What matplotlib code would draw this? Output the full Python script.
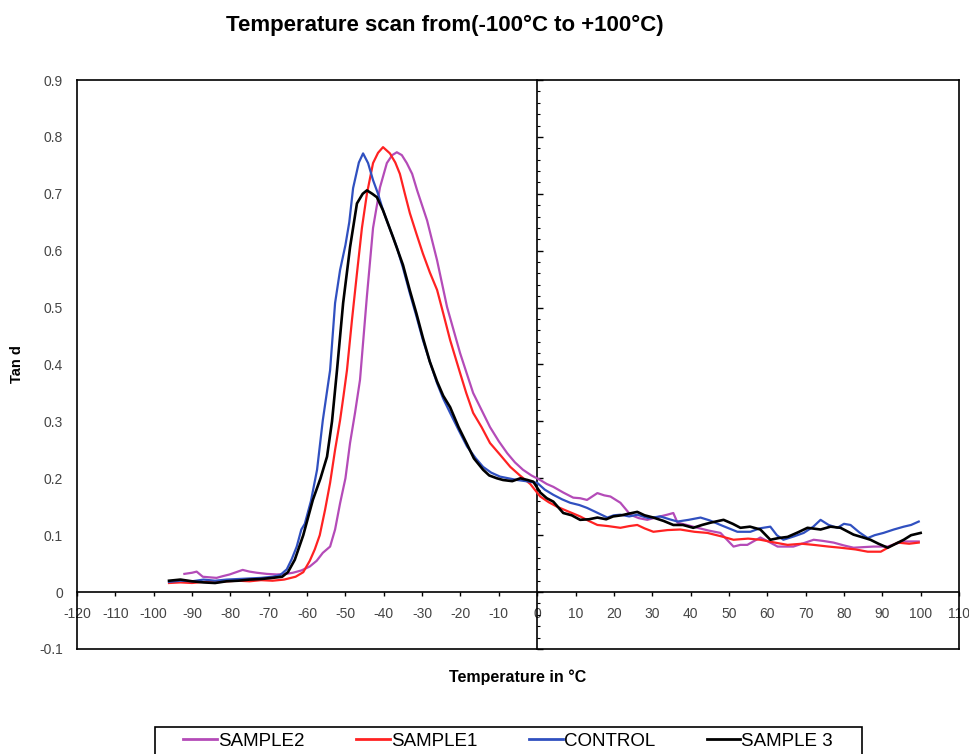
import matplotlib
matplotlib.use('Agg')
import matplotlib.pyplot as plt
from matplotlib.patches import Rectangle
import numpy as np

plt.rcParams['font.family'] = ['Liberation Sans', 'DejaVu Sans']

# SAMPLE2 (purple)
t_s2 = [-92, -90, -88.8, -87.2, -85.5, -83.6, -82, -80.2, -78.5, -76.8, -75, -73.1, -70.5, -67.9, -65.5,
        -63.7, -61.5, -59.3, -57.5, -55.9, -54, -52.7, -51.4, -50, -48.8, -47.5, -46.2, -44.4, -42.8, -41,
        -39.2, -37.8, -36.6, -35.3, -34, -32.6, -31.3, -28.7, -26.1, -23.5, -20.1, -16.7, -14.5, -12.3, -10,
        -7.8, -5.8, -3.7, -1.5, 0.8, 2.5, 4.2, 6.8, 9.4, 11.2, 13, 15.7, 17.5, 19.1, 21.7,
        24.3, 26.5, 28.7, 31.5, 33.9, 35.5, 36.6, 39, 41.8, 44.8, 47.8, 49.5, 51.2, 53, 54.8,
        58.2, 60.5, 62.7, 66.8, 69.5, 72.1, 74.5, 77.3, 80, 82.5, 85, 87.7, 91.4, 93.5, 95.6, 99.5]
v_s2 = [0.032, 0.034, 0.036, 0.027, 0.026, 0.025, 0.028, 0.031, 0.035, 0.039, 0.036, 0.034, 0.032, 0.031, 0.032,
        0.034, 0.038, 0.045, 0.055, 0.069, 0.08, 0.11, 0.156, 0.2, 0.262, 0.315, 0.373, 0.52, 0.64, 0.711,
        0.754, 0.768, 0.773, 0.768, 0.754, 0.735, 0.706, 0.653, 0.583, 0.501, 0.42, 0.35, 0.32, 0.29, 0.265,
        0.244, 0.228, 0.215, 0.205, 0.197, 0.19, 0.185, 0.175, 0.166, 0.165, 0.162, 0.174, 0.17, 0.168, 0.157,
        0.136, 0.13, 0.127, 0.132, 0.136, 0.139, 0.122, 0.118, 0.113, 0.108, 0.104, 0.092, 0.08, 0.083, 0.083,
        0.096, 0.088, 0.08, 0.08, 0.086, 0.092, 0.09, 0.087, 0.082, 0.078, 0.079, 0.08, 0.08, 0.085, 0.089, 0.089]

# SAMPLE1 (red)
t_s1 = [-96, -93, -90, -87, -84, -81, -78, -75, -72, -69, -66, -63, -61, -59.3, -58,
        -56.7, -55.3, -54, -52.7, -51.4, -50.5, -49.6, -48.3, -47, -45.7, -44.4, -42.8, -41.5, -40.2, -38.4,
        -37, -35.8, -34.5, -33.2, -31.5, -29.8, -28, -26.1, -24.5, -22.7, -20.1, -18.5, -16.7, -14.5, -12.3,
        -9.5, -7, -4.5, -1.8, 0.8, 3, 5.2, 8, 11.2, 13.5, 15.7, 18.5, 21.7, 24, 26.1,
        28, 30.3, 34, 37.3, 41, 44.4, 48, 51.2, 55, 58.2, 62, 65.3, 69, 72.1, 76,
        79.1, 83, 86.2, 89.6, 92, 94, 97, 99.5]
v_s1 = [0.016, 0.017, 0.016, 0.018, 0.017, 0.019, 0.02, 0.019, 0.021, 0.02, 0.022, 0.027, 0.035, 0.055, 0.075,
        0.1, 0.145, 0.192, 0.25, 0.302, 0.345, 0.39, 0.478, 0.56, 0.64, 0.70, 0.754, 0.772, 0.782, 0.771,
        0.755, 0.735, 0.7, 0.666, 0.63, 0.595, 0.562, 0.531, 0.49, 0.443, 0.385, 0.35, 0.315, 0.29, 0.262,
        0.24, 0.22, 0.205, 0.19, 0.168, 0.158, 0.15, 0.142, 0.133, 0.125, 0.118, 0.116, 0.113, 0.116, 0.118,
        0.112, 0.106, 0.109, 0.11, 0.106, 0.104, 0.098, 0.092, 0.094, 0.092, 0.087, 0.083, 0.085, 0.083, 0.08,
        0.078, 0.075, 0.071, 0.071, 0.08, 0.087, 0.085, 0.087]

# CONTROL (blue)
t_ctrl = [-96, -93, -90, -87, -84, -81, -78, -75, -72, -69, -67, -65.3, -64, -62.7, -61.5,
          -60.6, -59, -57.4, -55.9, -54, -52.7, -51.4, -50, -49, -48, -46.5, -45.4, -44.1, -42.8, -41.5,
          -40.2, -38.5, -36.6, -35, -33.2, -31.5, -29.8, -28, -26.1, -24.5, -22.7, -20.5, -18.3, -16, -14.1,
          -12, -9.7, -7.5, -5.2, -3, -1, 0, 2, 4.2, 6.5, 8.6, 11, 13, 15.5, 18.3,
          20, 21.7, 24, 26.1, 29, 32.1, 34.5, 36.6, 39.5, 42.6, 45, 47.8, 50, 52.2, 55.6,
          58, 60.8, 62.5, 64.2, 67, 69.5, 72, 73.9, 76, 78.3, 80, 81.7, 84, 86.2, 88,
          90.3, 93, 95.6, 97.5, 99.5]
v_ctrl = [0.018, 0.02, 0.019, 0.022, 0.02, 0.022, 0.023, 0.024, 0.025, 0.027, 0.03, 0.04, 0.058, 0.08, 0.11,
          0.12, 0.16, 0.215, 0.302, 0.39, 0.508, 0.566, 0.61, 0.65, 0.71, 0.755, 0.771, 0.754, 0.724, 0.70,
          0.671, 0.64, 0.606, 0.57, 0.525, 0.485, 0.443, 0.405, 0.367, 0.34, 0.315, 0.285, 0.256, 0.235, 0.22,
          0.21, 0.203, 0.2, 0.197, 0.195, 0.193, 0.192, 0.18, 0.171, 0.163, 0.157, 0.153, 0.148, 0.14, 0.131,
          0.135, 0.136, 0.133, 0.136, 0.13, 0.133, 0.128, 0.124, 0.127, 0.131, 0.126, 0.118, 0.112, 0.106, 0.106,
          0.112, 0.115, 0.1, 0.092, 0.098, 0.104, 0.115, 0.127, 0.118, 0.113, 0.12, 0.118, 0.105, 0.095, 0.1,
          0.104, 0.11, 0.115, 0.118, 0.124]

# SAMPLE 3 (black)
t_s3 = [-96, -93, -90, -87, -84, -81, -78, -75, -72, -69, -66.5, -65, -63.2, -61, -58.5,
        -56.5, -54.8, -53.5, -52.2, -50.6, -48.8, -47, -45.5, -44.4, -43, -41.8, -40.2, -37.6, -35, -33.2,
        -31.5, -29.8, -28, -26.1, -24.5, -22.7, -20.5, -18.3, -16.5, -14.1, -12.5, -10.5, -8.9, -6.5, -4.4,
        -2.5, -1, 0.8, 2.5, 4.2, 6.8, 9, 11.2, 13.5, 15.7, 18, 19.8, 22, 24, 26.1,
        28, 30.3, 33, 35.5, 38, 40.7, 43, 45.2, 48.6, 51, 53, 55.5, 58.2, 60.8, 63,
        65.3, 68, 70.5, 73.9, 76.5, 79.1, 82.5, 85, 86.9, 89, 91.4, 93.5, 95.6, 97.5, 100]
v_s3 = [0.02, 0.022, 0.019, 0.017, 0.016, 0.019, 0.02, 0.022, 0.023, 0.025, 0.027, 0.035, 0.057, 0.1, 0.162,
        0.2, 0.238, 0.3, 0.39, 0.508, 0.606, 0.683, 0.7, 0.706, 0.7, 0.694, 0.671, 0.624, 0.575, 0.53,
        0.49, 0.447, 0.405, 0.37, 0.345, 0.325, 0.29, 0.26, 0.235, 0.215, 0.205, 0.2, 0.197, 0.195, 0.2,
        0.197, 0.194, 0.175, 0.165, 0.159, 0.139, 0.135, 0.127, 0.128, 0.131, 0.128, 0.133, 0.135, 0.138, 0.141,
        0.135, 0.131, 0.125, 0.118, 0.118, 0.113, 0.118, 0.122, 0.127, 0.12, 0.113, 0.115, 0.11, 0.092, 0.095,
        0.097, 0.105, 0.113, 0.11, 0.115, 0.113, 0.101, 0.096, 0.092, 0.085, 0.078, 0.085, 0.092, 0.1, 0.104]

x_ticks = list(range(-120, 111, 10))
y_ticks = [-0.1, 0, 0.1, 0.2, 0.3, 0.4, 0.5, 0.6, 0.7, 0.8, 0.9]
y_labels = ['-0.1', '0', '0.1', '0.2', '0.3', '0.4', '0.5', '0.6', '0.7', '0.8', '0.9']

fig = plt.figure(figsize=(9.69, 7.54), dpi=100)
ax = fig.add_axes([77 / 969, 1 - 649 / 754, 882 / 969, 569 / 754])

lw = 1.6
ax.plot(t_s2, v_s2, color='#b44bb8', lw=lw, label='SAMPLE2')
ax.plot(t_s1, v_s1, color='#ff2222', lw=lw, label='SAMPLE1')
ax.plot(t_ctrl, v_ctrl, color='#3050c0', lw=lw, label='CONTROL')
ax.plot(t_s3, v_s3, color='black', lw=1.9, label='SAMPLE 3')

ax.set_xlim(-120, 110)
ax.set_ylim(-0.1, 0.9)
for s in ax.spines.values():
    s.set_linewidth(1.2)

ax.set_xticks([])
ax.set_yticks(y_ticks)
ax.set_yticklabels(y_labels)
ax.tick_params(axis='y', length=0, pad=10, labelsize=10, labelcolor='#444444')

# x axis crossing at y = 0
sx = ax.secondary_xaxis(0.1)
sx.set_xticks(x_ticks)
sx.set_xticklabels([str(v) for v in x_ticks])
sx.tick_params(axis='x', direction='out', length=3, width=1, labelsize=10,
               labelcolor='#444444', pad=8)
for s in sx.spines.values():
    s.set_linewidth(1.2)

# y axis crossing at x = 0
sy = ax.secondary_yaxis(120 / 230)
sy.set_yticks(y_ticks)
sy.set_yticks(np.arange(-0.1, 0.901, 0.02), minor=True)
sy.tick_params(axis='y', which='major', direction='out', length=4, width=1, labelright=False)
sy.tick_params(axis='y', which='minor', direction='out', length=2, width=0.8)
for s in sy.spines.values():
    s.set_linewidth(1.2)

ax.set_ylabel('Tan d', fontsize=10.5, fontweight='bold')
ax.yaxis.set_label_coords(-0.060, 0.5)
fig.text(518 / 969, 1 - 677 / 754, 'Temperature in °C', fontsize=11.5, fontweight='bold',
         ha='center', va='center')
fig.text(445 / 969, 1 - 25 / 754, 'Temperature scan from(-100°C to +100°C)', fontsize=16,
         fontweight='bold', ha='center', va='center')

leg = fig.legend(loc='center left', ncol=4, mode='expand',
                 bbox_to_anchor=(183 / 969, 1 - 741 / 754, 650 / 969, 0),
                 bbox_transform=fig.transFigure, fontsize=13.5, frameon=False,
                 handlelength=1.8, handletextpad=0.05, borderpad=0, borderaxespad=0)
for h in leg.get_lines():
    h.set_linewidth(2.0)

# legend frame (runs off the bottom edge as in the original)
fig.add_artist(Rectangle((155 / 969, -0.02), 707 / 969, 0.02 + 27 / 754,
                         transform=fig.transFigure, fill=False, lw=1.2, ec='black'))

fig.savefig('out.png', dpi=100)
